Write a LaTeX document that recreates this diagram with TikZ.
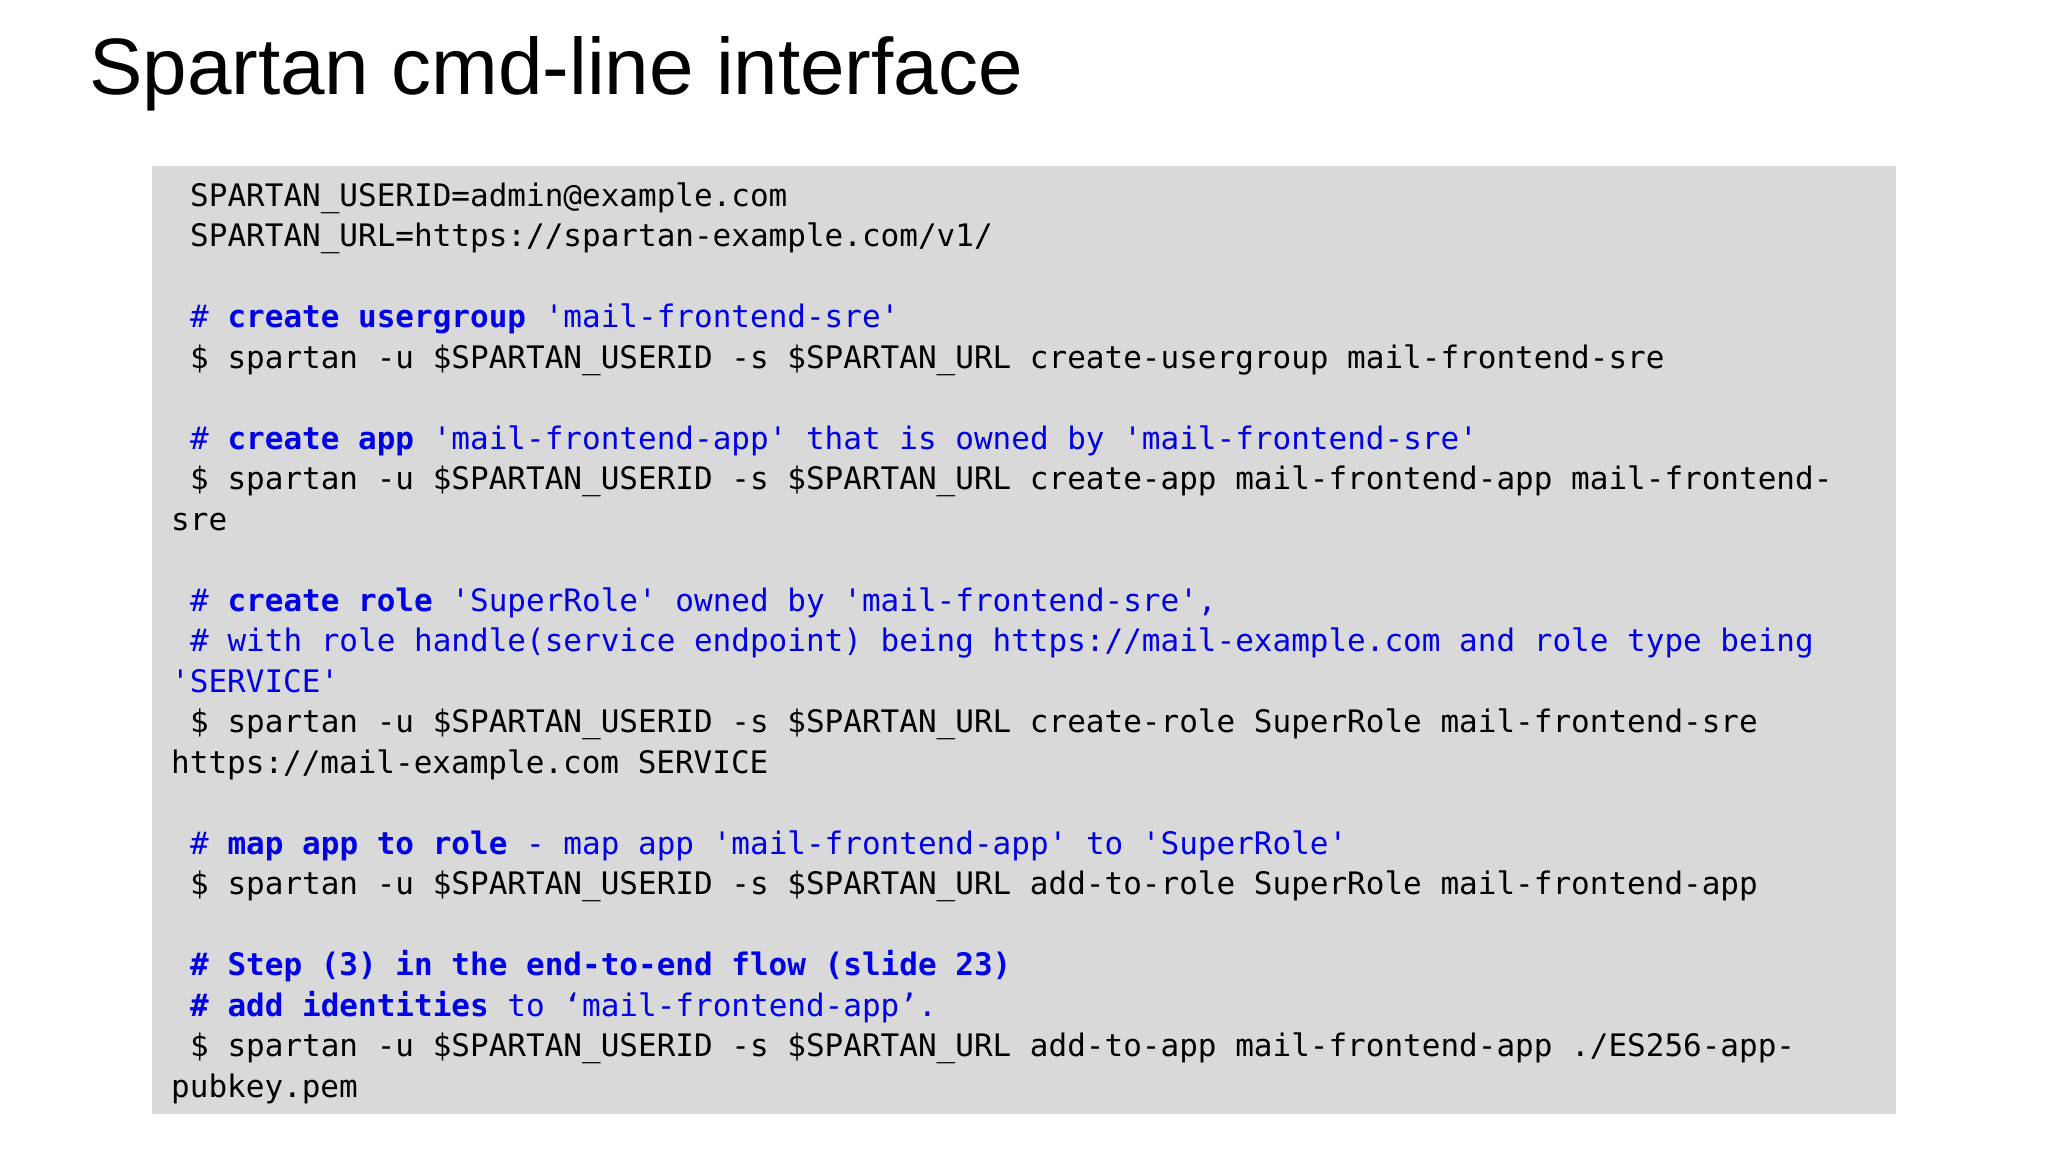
\documentclass[tikz,border=0pt]{standalone}
\usepackage{fontspec}
\setmainfont{Liberation Sans}
\setmonofont{DejaVu Sans Mono}
\definecolor{boxgray}{HTML}{D9D9D9}
\definecolor{cmtblue}{HTML}{0000E6}
\newcommand{\cl}[3]{\node[codeline] (l#1) at (#2, -206-40.5*#1) {#3};}
\newcommand{\cm}[1]{\textcolor{cmtblue}{#1}}
\begin{document}
\begin{tikzpicture}[x=1pt,y=1pt,
  codeline/.style={anchor=base west, inner sep=0pt, font=\fontsize{31}{36}\selectfont\ttfamily}]
\useasboundingbox (0,0) rectangle (2048,-1152);
\fill[boxgray] (151.5,-166) rectangle (1896,-1114);
\node[anchor=base west, inner sep=0pt, font=\fontsize{80}{90}\selectfont] (title) at (89,-94) {Spartan cmd-line interface};
\def\A{190}\def\B{171}
\cl{0}{\A}{SPARTAN\_USERID=admin@example.com}
\cl{1}{\A}{SPARTAN\_URL=https://spartan-example.com/v1/}
\cl{3}{\A}{\cm{\# \textbf{create usergroup} 'mail-frontend-sre'}}
\cl{4}{\A}{\$ spartan -u \$SPARTAN\_USERID -s \$SPARTAN\_URL create-usergroup mail-frontend-sre}
\cl{6}{\A}{\cm{\# \textbf{create app} 'mail-frontend-app' that is owned by 'mail-frontend-sre'}}
\cl{7}{\A}{\$ spartan -u \$SPARTAN\_USERID -s \$SPARTAN\_URL create-app mail-frontend-app mail-frontend-}
\cl{8}{\B}{sre}
\cl{10}{\A}{\cm{\# \textbf{create role} 'SuperRole' owned by 'mail-frontend-sre',}}
\cl{11}{\A}{\cm{\# with role handle(service endpoint) being https://mail-example.com and role type being}}
\cl{12}{\B}{\cm{'SERVICE'}}
\cl{13}{\A}{\$ spartan -u \$SPARTAN\_USERID -s \$SPARTAN\_URL create-role SuperRole mail-frontend-sre}
\cl{14}{\B}{https://mail-example.com SERVICE}
\cl{16}{\A}{\cm{\# \textbf{map app to role} - map app 'mail-frontend-app' to 'SuperRole'}}
\cl{17}{\A}{\$ spartan -u \$SPARTAN\_USERID -s \$SPARTAN\_URL add-to-role SuperRole mail-frontend-app}
\cl{19}{\A}{\cm{\textbf{\# Step (3) in the end-to-end flow (slide 23)}}}
\cl{20}{\A}{\cm{\textbf{\# add identities} to ‘mail-frontend-app’.}}
\cl{21}{\A}{\$ spartan -u \$SPARTAN\_USERID -s \$SPARTAN\_URL add-to-app mail-frontend-app ./ES256-app-}
\cl{22}{\B}{pubkey.pem}
\end{tikzpicture}
\end{document}
